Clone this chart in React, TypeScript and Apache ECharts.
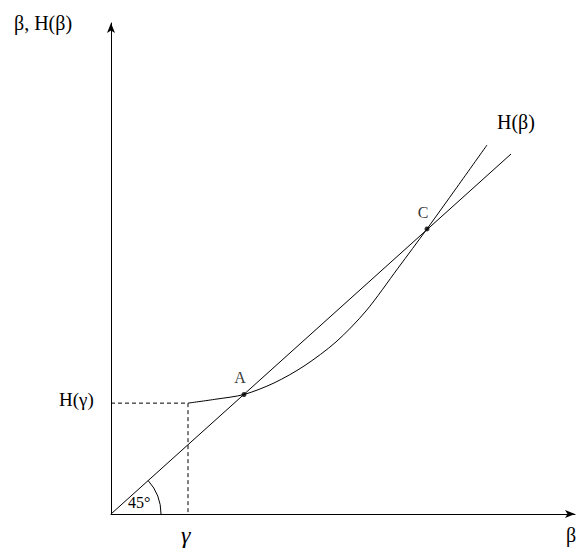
import React, { useEffect, useRef } from "react";
import * as echarts from "echarts";

const lineX = [0, 10];
const lineY = [0, 10];
const curveX = [1.925, 2.625, 3.325, 4.075, 4.825, 5.625, 6.375, 7.175, 7.9, 8.65, 9.4];
const curveY = [3.08, 3.19, 3.32, 3.64, 4.11, 4.78, 5.64, 6.83, 7.92, 9.08, 10.25];
const gammaX = 1.925;
const hGamma = 3.08;
const pointNames = ["A", "C"];
const pointX = [3.325, 7.9];
const pointY = [3.32, 7.92];

const FONT = "'Liberation Serif', 'Times New Roman', serif";

export default function App() {
  const ref = useRef<HTMLDivElement>(null);
  useEffect(() => {
    const chart = echarts.init(ref.current!, null, { renderer: "svg" });
    const axisCommon = {
      axisTick: { show: false },
      axisLabel: { show: false },
      splitLine: { show: false },
      axisLine: {
        show: true,
        onZero: false,
        symbol: ["none", "arrow"],
        symbolSize: [6, 10],
        lineStyle: { color: "#000", width: 1 },
      },
    };
    const txt = (text: string, left: number, top: number, size: number, italic = false) => ({
      type: "text",
      left,
      top,
      style: {
        text,
        fontFamily: FONT,
        fontSize: size,
        fontStyle: italic ? "italic" : "normal",
        fill: "#000",
      },
    });
    chart.setOption({
      animation: false,
      textStyle: { fontFamily: FONT },
      grid: { left: 111, right: 7, top: 23, bottom: 40 },
      xAxis: { type: "value", min: 0, max: 11.6, ...axisCommon },
      yAxis: { type: "value", min: 0, max: 13.64, ...axisCommon },
      series: [
        {
          type: "line",
          data: lineX.map((x, i) => [x, lineY[i]]),
          symbol: "none",
          lineStyle: { color: "#000", width: 1 },
        },
        {
          type: "line",
          data: curveX.map((x, i) => [x, curveY[i]]),
          smooth: 0.3,
          symbol: "none",
          lineStyle: { color: "#000", width: 1 },
        },
        {
          type: "line",
          data: [
            [0, hGamma],
            [gammaX, hGamma],
            [gammaX, 0],
          ],
          symbol: "none",
          lineStyle: { color: "#000", width: 1, type: [4, 3] },
        },
        {
          type: "scatter",
          data: pointX.map((x, i) => ({ value: [x, pointY[i]], name: pointNames[i] })),
          symbolSize: 5,
          itemStyle: { color: "#000" },
          label: {
            show: true,
            formatter: (p: any) => p.name,
            position: "top",
            offset: [-4, -1],
            fontFamily: FONT,
            fontSize: 16,
            color: "#000",
          },
        },
      ],
      graphic: [
        txt("β, H(β)", 14, 13, 20),
        txt("H(β)", 497, 112, 20),
        txt("H(γ)", 59, 390, 19),
        txt("45°", 128, 494, 16),
        txt("γ", 181, 523, 24, true),
        txt("β", 566, 525, 20),
        {
          type: "arc",
          shape: { cx: 111, cy: 514, r: 50, startAngle: -Math.atan(0.9), endAngle: 0 },
          style: { stroke: "#000", lineWidth: 1, fill: "none" },
        },
      ],
    });
    return () => chart.dispose();
  }, []);
  return (
    <div
      ref={ref}
      style={{ position: "fixed", left: 0, top: 0, width: 582, height: 554, background: "#fff" }}
    />
  );
}
